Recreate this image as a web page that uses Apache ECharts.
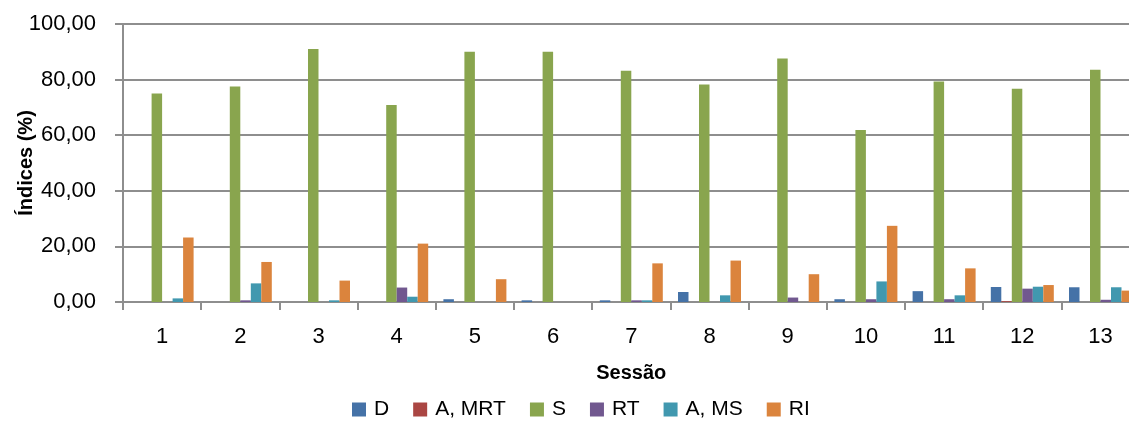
<!DOCTYPE html>
<html>
<head>
<meta charset="utf-8">
<script src="https://cdn.jsdelivr.net/npm/echarts@6/dist/echarts.min.js"></script>
<style>
  html, body { margin: 0; padding: 0; background: #fff; }
  #chart { width: 1129px; height: 422px; }
</style>
</head>
<body>
<div id="chart"></div>
<script>
// Session numbers on the category axis
const sessoes = ['1', '2', '3', '4', '5', '6', '7', '8', '9', '10', '11', '12', '13'];

// Index values (%) per session
const serieD    = [0, 0, 0, 0, 1.0, 0.6, 0.6, 3.6, 0, 1.0, 3.9, 5.4, 5.3];
const serieAMRT = [0, 0, 0, 0, 0, 0, 0, 0, 0, 0, 0, 0.3, 0];
const serieS    = [75.0, 77.5, 91.0, 70.9, 90.0, 90.0, 83.2, 78.2, 87.6, 61.9, 79.3, 76.7, 83.5];
const serieRT   = [0, 0.6, 0, 5.2, 0, 0, 0.6, 0, 1.6, 1.0, 1.0, 4.8, 0.8];
const serieAMS  = [1.3, 6.7, 0.6, 1.9, 0, 0, 0.6, 2.4, 0, 7.4, 2.4, 5.5, 5.3];
const serieRI   = [23.2, 14.4, 7.7, 21.0, 8.2, 0, 13.9, 14.9, 10.0, 27.4, 12.1, 6.1, 4.1];

const seriesNames = ['D', 'A, MRT', 'S', 'RT', 'A, MS', 'RI'];
const seriesData = [serieD, serieAMRT, serieS, serieRT, serieAMS, serieRI];
const seriesColors = ['#4572A7', '#AA4643', '#89A54E', '#71588F', '#4198AF', '#DB843D'];

const FONT = 'Liberation Sans, Arial, sans-serif';
const GRID_COLOR = '#8e8e8e';

const chart = echarts.init(document.getElementById('chart'), null, { renderer: 'canvas' });

chart.setOption({
  animation: false,
  backgroundColor: '#ffffff',
  color: seriesColors,
  textStyle: { fontFamily: FONT, color: '#000' },
  grid: { left: 123, right: -10.6, top: 24, bottom: 120, containLabel: false, outerBoundsMode: 'none' },
  legend: {
    left: 347,
    top: 394,
    itemWidth: 14,
    itemHeight: 14,
    itemGap: 24,
    icon: 'rect',
    textStyle: { fontFamily: FONT, fontSize: 21, color: '#000', padding: [0, 0, 0, 3] },
    data: seriesNames
  },
  xAxis: {
    type: 'category',
    data: sessoes,
    name: 'Sessão',
    nameLocation: 'middle',
    nameGap: 61,
    nameMoveOverlap: false,
    nameTextStyle: { fontFamily: FONT, fontSize: 20, fontWeight: 'bold', color: '#000', verticalAlign: 'top' },
    axisLine: { show: true, lineStyle: { color: GRID_COLOR, width: 2 } },
    axisTick: { show: true, alignWithLabel: false, length: 8, lineStyle: { color: GRID_COLOR, width: 2 } },
    axisLabel: { fontFamily: FONT, fontSize: 22, color: '#000', margin: 24 },
    splitLine: { show: false }
  },
  yAxis: {
    type: 'value',
    min: 0,
    max: 100,
    interval: 20,
    name: 'Índices (%)',
    nameLocation: 'middle',
    nameRotate: 90,
    nameGap: 87,
    nameMoveOverlap: false,
    nameTextStyle: { fontFamily: FONT, fontSize: 20, fontWeight: 'bold', color: '#000' },
    axisLine: { show: true, lineStyle: { color: GRID_COLOR, width: 2 } },
    axisTick: { show: true, length: 8, lineStyle: { color: GRID_COLOR, width: 2 } },
    axisLabel: {
      fontFamily: FONT, fontSize: 22, color: '#000', margin: 27,
      formatter: v => v.toFixed(2).replace('.', ',')
    },
    splitLine: { show: true, lineStyle: { color: GRID_COLOR, width: 2 } }
  },
  series: seriesNames.map((name, i) => ({
    name: name,
    type: 'bar',
    data: seriesData[i],
    barWidth: 10.5,
    barGap: '0%',
    itemStyle: { color: seriesColors[i] }
  }))
});
</script>
</body>
</html>
